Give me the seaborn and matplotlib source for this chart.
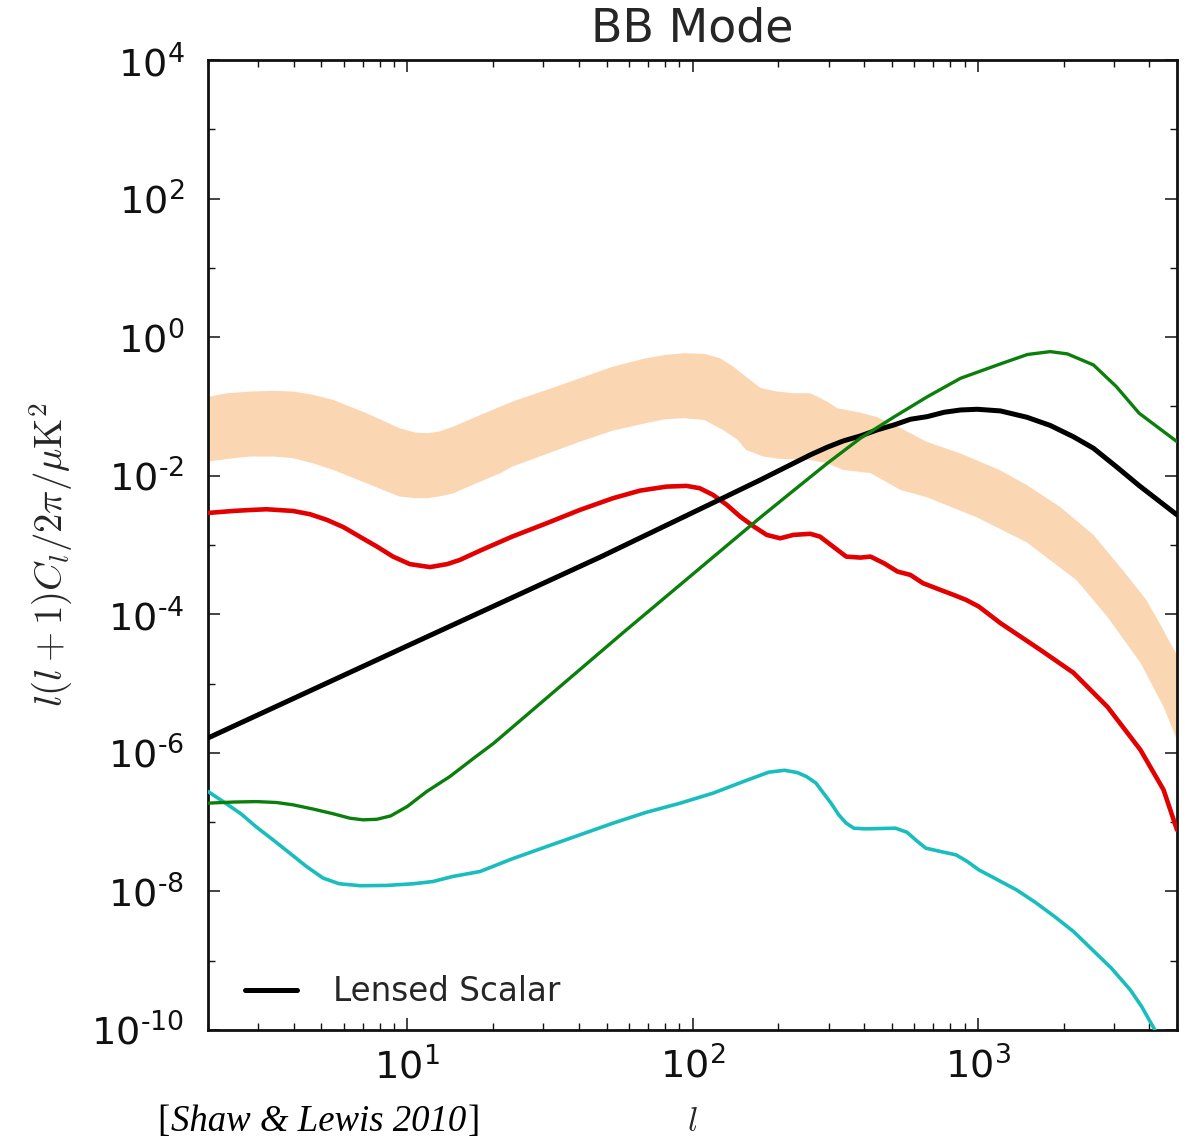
import numpy as np
import matplotlib
matplotlib.use("Agg")
import matplotlib.pyplot as plt
import seaborn as sns
from matplotlib.ticker import FixedLocator, LogLocator, FuncFormatter, NullFormatter
from matplotlib.lines import Line2D
from matplotlib.offsetbox import TextArea, HPacker, AnchoredOffsetbox

# BB-mode power spectra, l(l+1)C_l/2pi in muK^2, against multipole l

# lensed scalar B modes
ell_lensed = [2, 10, 47.5, 120, 173, 198, 226, 259, 297, 338, 388, 444, 509, 581, 666, 763,
              871, 998, 1202, 1488, 1796, 2164, 2547, 3064, 3683, 5000]
cl_lensed = [1.64e-6, 3.5e-5, 6.7e-4, 4.2e-3, 8.7e-3, 1.15e-2, 1.51e-2, 2.0e-2, 2.58e-2,
             3.18e-2, 3.75e-2, 4.58e-2, 5.41e-2, 6.53e-2, 7.13e-2, 8.24e-2, 8.89e-2, 9.1e-2,
             8.61e-2, 6.98e-2, 5.32e-2, 3.66e-2, 2.49e-2, 1.35e-2, 7.2e-3, 2.72e-3]

# red curve
ell_red = [2, 2.45, 2.81, 3.21, 3.97, 4.56, 5.23, 5.97, 6.83, 7.82, 8.91, 10.2, 12.0, 13.8,
           15.3, 18.0, 23.3, 30.8, 40.3, 52.6, 65.4, 81.0, 95.3, 106, 118, 132, 147, 164, 182,
           203, 226, 259, 280, 311, 346, 388, 421, 469, 524, 581, 643, 740, 822, 912, 1010,
           1202, 1660, 2168, 2852, 3724, 4487, 5000]
cl_red = [2.9e-3, 3.1e-3, 3.2e-3, 3.28e-3, 3.1e-3, 2.78e-3, 2.3e-3, 1.81e-3, 1.31e-3, 9.5e-4,
          6.8e-4, 5.3e-4, 4.8e-4, 5.3e-4, 6.1e-4, 8.3e-4, 1.32e-3, 2.06e-3, 3.21e-3, 4.73e-3,
          6.09e-3, 6.96e-3, 7.13e-3, 6.6e-3, 5.29e-3, 3.79e-3, 2.57e-3, 1.85e-3, 1.4e-3,
          1.25e-3, 1.4e-3, 1.45e-3, 1.32e-3, 9.5e-4, 6.8e-4, 6.58e-4, 6.8e-4, 5.46e-4, 4.13e-4,
          3.7e-4, 2.81e-4, 2.25e-4, 1.91e-4, 1.61e-4, 1.29e-4, 7.45e-5, 3.06e-5, 1.43e-5,
          4.61e-6, 1.1e-6, 2.92e-7, 7.74e-8]

# green curve
ell_green = [2, 2.45, 2.96, 3.48, 3.97, 4.69, 5.5, 6.29, 7.0, 7.82, 8.74, 9.99, 11.7, 14.1,
             17.1, 20.1, 57.3, 173, 226, 297, 388, 509, 666, 871, 1200, 1495, 1796,
             2064, 2547, 3064, 3683, 5000]
cl_green = [1.88e-7, 1.95e-7, 1.98e-7, 1.92e-7, 1.78e-7, 1.54e-7, 1.32e-7, 1.14e-7, 1.08e-7,
            1.1e-7, 1.23e-7, 1.68e-7, 2.77e-7, 4.55e-7, 8.38e-7, 1.38e-6, 5.5e-5,
            2.5e-3, 6.1e-3, 1.51e-2, 3.48e-2, 7.05e-2, 0.138, 0.255, 0.41, 0.562, 0.618,
            0.573, 0.397, 0.193, 0.0798, 0.031]

# cyan curve
ell_cyan = [2, 2.26, 2.61, 2.96, 3.38, 3.87, 4.43, 5.06, 5.77, 6.83, 8.45, 10.5, 12.3, 14.4,
            18.0, 23.3, 30.8, 40.3, 52.6, 68.6, 90.6, 118, 154, 185, 210, 233, 251, 271, 288,
            306, 326, 346, 368, 403, 515, 565, 610, 658, 743, 840, 920, 1009, 1175, 1370, 1596,
            1859, 2168, 2524, 2942, 3428, 3758, 4118, 4300]
cl_cyan = [2.77e-7, 1.98e-7, 1.32e-7, 8.47e-8, 5.56e-8, 3.57e-8, 2.29e-8, 1.56e-8, 1.29e-8,
           1.21e-8, 1.22e-8, 1.29e-8, 1.39e-8, 1.64e-8, 1.94e-8, 2.95e-8, 4.44e-8, 6.56e-8,
           9.66e-8, 1.38e-7, 1.88e-7, 2.62e-7, 3.98e-7, 5.26e-7, 5.6e-7, 5.2e-7, 4.55e-7,
           3.66e-7, 2.62e-7, 1.88e-7, 1.27e-7, 9.66e-8, 8.18e-8, 8.0e-8, 8.18e-8, 7.15e-8,
           5.42e-8, 4.21e-8, 3.76e-8, 3.37e-8, 2.7e-8, 2.05e-8, 1.47e-8, 1.05e-8, 6.92e-9,
           4.35e-9, 2.64e-9, 1.44e-9, 7.82e-10, 3.8e-10, 2.18e-10, 1.12e-10, 8.2e-11]

# shaded band: upper and lower edges
ell_band_hi = [2, 2.33, 2.81, 3.39, 3.97, 4.67, 5.5, 6.29, 7.19, 8.21, 9.4, 10.7, 11.7, 12.9,
               14.5, 17.5, 21.2, 23.3, 30.8, 40.3, 52.6, 68.6, 80.0, 93.5, 110, 125, 139, 154,
               173, 198, 226, 259, 297, 322, 388, 444, 509, 661, 866, 1193, 1485, 1940, 2547,
               3327, 3904, 4378, 4670, 5000]
cl_band_hi = [0.137, 0.155, 0.164, 0.168, 0.164, 0.147, 0.124, 0.0994, 0.0798, 0.0624, 0.0484,
              0.0419, 0.041, 0.0433, 0.0511, 0.0713, 0.0994, 0.117, 0.173, 0.255, 0.375, 0.496,
              0.553, 0.586, 0.573, 0.496, 0.375, 0.269, 0.185, 0.164, 0.155, 0.155, 0.117,
              0.0942, 0.0815, 0.0699, 0.0545, 0.031, 0.0211, 0.0121, 7.36e-3, 3.58e-3, 1.4e-3,
              3.71e-4, 1.61e-4, 7.03e-5, 4.27e-5, 2.59e-5]
ell_band_lo = [2, 2.45, 2.81, 3.39, 3.97, 4.67, 5.5, 6.29, 7.19, 8.21, 9.4, 10.7, 11.7, 12.9,
               14.5, 17.5, 21.2, 23.3, 30.8, 40.3, 52.6, 68.6, 80.0, 93.5, 110, 128, 144, 154,
               177, 203, 259, 297, 338, 421, 536, 666, 995, 1488, 2217, 2852, 3724, 4487, 5000]
cl_band_lo = [0.016, 0.0179, 0.0189, 0.0189, 0.0179, 0.0151, 0.0121, 9.71e-3, 7.8e-3, 6.24e-3,
              5.0e-3, 4.73e-3, 4.73e-3, 5.0e-3, 5.58e-3, 7.8e-3, 0.0109, 0.0135, 0.0206, 0.031,
              0.0448, 0.0573, 0.0653, 0.0676, 0.0638, 0.0458, 0.0329, 0.0236, 0.0189, 0.0175,
              0.0169, 0.0151, 0.0121, 0.0109, 6.24e-3, 4.86e-3, 2.5e-3, 1.09e-3, 3.13e-4,
              9.17e-5, 1.99e-5, 4.61e-6, 1.54e-6]

y_major = [1e-10, 1e-8, 1e-6, 1e-4, 1e-2, 1e0, 1e2, 1e4]
y_minor = [1e-9, 1e-7, 1e-5, 1e-3, 1e-1, 1e1, 1e3]

sns.set_theme(style="ticks")
plt.rcParams.update({
    "font.family": ["DejaVu Sans"],
    "axes.unicode_minus": False,
    "mathtext.fontset": "cm",
    "xtick.direction": "in",
    "ytick.direction": "in",
    "xtick.top": True,
    "ytick.right": True,
    "axes.edgecolor": "#111111",
    "xtick.color": "#111111",
    "ytick.color": "#111111",
})


def power_of_ten(val, pos):
    exp = int(round(np.log10(val)))
    # short hyphen in the exponent instead of a full minus sign
    return r"$\mathdefault{10^{%s}}$" % str(exp).replace("-", "\u2010")


W, H = 1193, 1141
fig = plt.figure(figsize=(W / 100, H / 100), dpi=100)
ax = fig.add_axes([208 / W, 111 / H, 969 / W, 970 / H])
ax.set_xscale("log")
ax.set_yscale("log")

ax.fill(np.r_[ell_band_hi, ell_band_lo[::-1]], np.r_[cl_band_hi, cl_band_lo[::-1]],
        color="#FBD6B3", lw=0, zorder=1)

line_kw = dict(sort=False, estimator=None, ax=ax, solid_joinstyle="round", solid_capstyle="round")
sns.lineplot(x=ell_red, y=cl_red, color="#E20000", lw=3.3, zorder=3, **line_kw)
sns.lineplot(x=ell_cyan, y=cl_cyan, color="#1ABDBD", lw=2.6, zorder=3, **line_kw)
sns.lineplot(x=ell_lensed, y=cl_lensed, color="black", lw=3.6, zorder=4, **line_kw)
sns.lineplot(x=ell_green, y=cl_green, color="#0B7F0B", lw=2.4, zorder=5, **line_kw)

ax.set_xlim(2, 5000)
ax.set_ylim(1e-10, 1e4)

ax.yaxis.set_major_locator(FixedLocator(y_major))
ax.yaxis.set_minor_locator(FixedLocator(y_minor))
ax.yaxis.set_major_formatter(FuncFormatter(power_of_ten))
ax.yaxis.set_minor_formatter(NullFormatter())
ax.xaxis.set_major_locator(LogLocator(base=10))
ax.xaxis.set_major_formatter(FuncFormatter(power_of_ten))
ax.xaxis.set_minor_locator(LogLocator(base=10, subs=np.arange(2, 10)))
ax.xaxis.set_minor_formatter(NullFormatter())

ax.tick_params(which="major", length=8.6, width=1.1, labelsize=27.5)
ax.tick_params(axis="y", which="major", pad=17)
ax.tick_params(axis="x", which="major", pad=12)
ax.tick_params(which="minor", length=4.7, width=1.0)
for sp in ax.spines.values():
    sp.set_linewidth(2.0)

ax.set_title("BB Mode", fontsize=33, pad=13)
ax.set_ylabel(r"$l(l+1)C_l/2\pi/\mu{\rm K}^2$", fontsize=28)
ax.yaxis.set_label_coords(-0.137, 0.49)
ax.set_xlabel(r"$l$", fontsize=24)
ax.xaxis.set_label_coords(0.5, -0.077)

handle = Line2D([], [], color="black", lw=3.6)
ax.legend([handle], ["Lensed Scalar"], loc="lower left", frameon=False, fontsize=23.5,
          handlelength=1.59, handletextpad=1.1, borderpad=0, borderaxespad=0,
          bbox_to_anchor=(37 / 969, 22 / 970))

# citation below the axes: upright brackets, italic text
cite_style = dict(family="Liberation Serif", size=26.5, color="black")
cite = HPacker(children=[
    TextArea("[", textprops=cite_style),
    TextArea("Shaw & Lewis 2010", textprops=dict(cite_style, style="italic")),
    TextArea("]", textprops=cite_style),
], align="baseline", pad=0, sep=1)
anchored = AnchoredOffsetbox(loc="lower left", child=cite, pad=0, borderpad=0, frameon=False,
                             bbox_to_anchor=(157 / W, 2 / H), bbox_transform=fig.transFigure)
fig.add_artist(anchored)

fig.savefig("out.png", dpi=100)
